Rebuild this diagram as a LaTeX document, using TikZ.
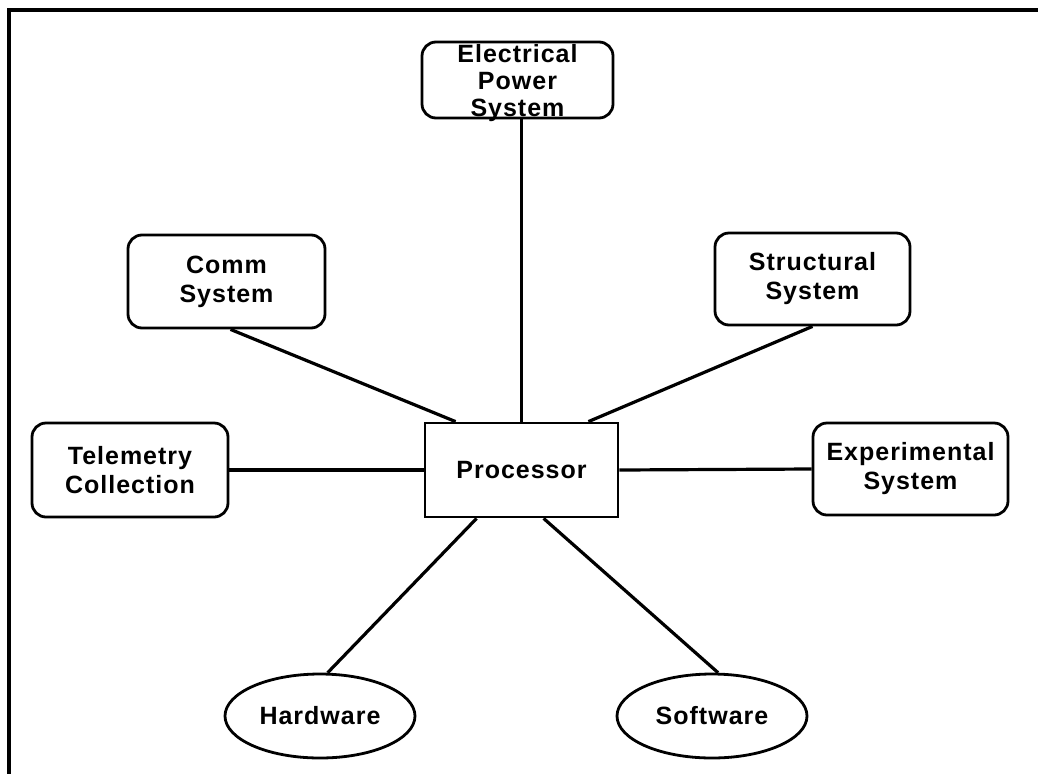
\documentclass[tikz,border=0pt]{standalone}
\usepackage{fontspec}
\setmainfont{Liberation Sans}
\newfontfamily\lblfont[LetterSpace=4]{Liberation Sans}
\usetikzlibrary{shapes.geometric,calc}
\begin{document}
\begin{tikzpicture}[x=1pt,y=-1pt,
  lbl/.style={font=\lblfont\fontsize{25}{29}\selectfont\bfseries,align=center,inner sep=0pt},
  box/.style={lbl,draw,line width=2.8pt,rounded corners=14pt,
    minimum width=195pt,minimum height=92pt},
  hub/.style={lbl,draw,line width=2.8pt,minimum width=193pt,minimum height=94pt},
  oval/.style={lbl,draw,line width=2.8pt,ellipse,minimum width=190pt,minimum height=84pt},
  link/.style={line width=3.2pt},
  frame/.style={line width=4pt}]
\useasboundingbox (0,0) rectangle (1038,774);

% outer frame (top and left edges)
\coordinate (ftl) at (9,10);
\coordinate (ftr) at (1038,10);
\coordinate (fbl) at (9,774);
\draw[frame] (ftr) -- (ftl) -- (fbl);

% subsystems
\node[box,minimum width=191pt,minimum height=76pt,text depth=0pt,
  font=\lblfont\fontsize{25}{27}\selectfont\bfseries] (eps) at (517.5,80)
  {Electrical\\Power\\System};
\node[box,minimum width=197pt,minimum height=93pt] (comm) at (226.5,281.5) {Comm\\System};
\node[box] (struct) at (812.5,279) {Structural\\System};
\node[box,minimum width=196pt,minimum height=94pt] (telem) at (130,470) {Telemetry\\Collection};
\node[hub] (proc) at (521.5,470) {Processor};
\node[box] (exper) at (910.5,469) {Experimental\\System};
\node[oval] (hard) at (320,716) {Hardware};
\node[oval] (soft) at (712,716) {Software};

% connectors to the processor
\draw[link] (proc.north) -- (proc.north |- eps.south);
\draw[link] ($(comm.south)+(4,0)$) -- ($(proc.north west)+(32,0)$);
\draw[link] (struct.south) -- ($(proc.north east)+(-31,0)$);
\draw[link] (telem.east) -- (proc.west);
\draw[link] (proc.east) -- (exper.west);
\draw[link] ($(proc.south west)+(53,0)$) -- (hard.80);
\draw[link] ($(proc.south west)+(120,0)$) -- (soft.82);
\end{tikzpicture}
\end{document}
